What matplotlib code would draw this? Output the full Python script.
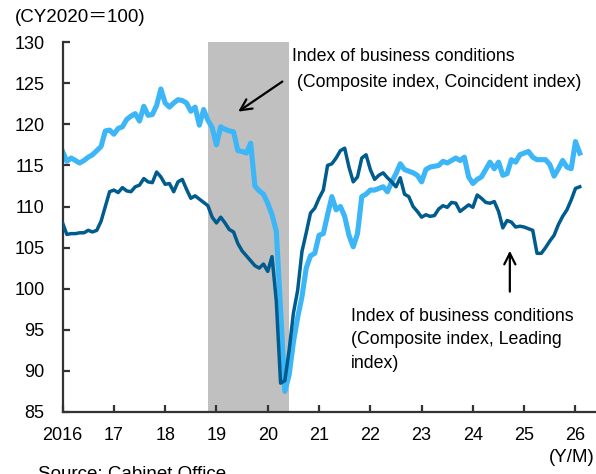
import numpy as np
import matplotlib.pyplot as plt

# monthly values, Jan 2016 .. Feb 2026 (CY2020 = 100)
coincident = [
    116.7, 115.5, 115.9, 115.6, 115.3, 115.6, 116.0, 116.3, 116.8, 117.3, 119.2, 119.3,  # 2016
    118.8, 119.5, 119.7, 120.6, 121.0, 121.3, 120.4, 122.2, 121.1, 121.2, 122.3, 124.3,  # 2017
    122.6, 122.1, 122.6, 123.0, 122.9, 122.6, 121.6, 122.1, 119.9, 121.8, 120.5, 119.6,  # 2018
    117.5, 119.7, 119.4, 119.2, 119.1, 116.8, 116.7, 116.5, 117.7, 112.5, 111.9, 111.5,  # 2019
    110.4, 109.0, 107.0, 97.5, 87.5, 89.5, 93.5, 96.5, 99.0, 102.5, 104.0, 104.3,        # 2020
    106.5, 106.7, 109.0, 111.2, 109.6, 110.0, 108.8, 106.5, 105.1, 106.7, 111.2, 111.5,  # 2021
    112.0, 112.0, 112.2, 112.4, 111.8, 113.0, 114.0, 115.2, 114.5, 114.3, 114.1, 113.8,  # 2022
    113.0, 114.5, 114.8, 114.9, 115.0, 115.5, 115.3, 115.6, 115.9, 115.6, 116.0, 113.6,  # 2023
    112.8, 113.3, 113.6, 114.5, 115.4, 114.6, 115.4, 113.8, 114.0, 115.7, 115.4, 116.3,  # 2024
    116.5, 116.7, 116.0, 115.7, 115.7, 115.7, 115.1, 113.7, 114.6, 115.6, 114.8, 114.6,  # 2025
    117.9, 116.5]
leading = [
    108.0, 106.6, 106.7, 106.7, 106.8, 106.8, 107.1, 106.9, 107.1, 108.2, 110.0, 111.8,  # 2016
    112.0, 111.7, 112.3, 111.9, 111.8, 112.4, 112.6, 113.4, 113.0, 112.9, 114.2, 113.6,  # 2017
    112.7, 112.8, 111.8, 113.0, 113.3, 112.1, 111.0, 111.3, 110.9, 110.5, 110.1, 108.7,  # 2018
    108.0, 108.7, 108.0, 107.2, 106.9, 105.5, 104.6, 104.0, 103.4, 102.8, 102.5, 103.0,  # 2019
    102.1, 103.9, 98.5, 88.5, 88.8, 92.5, 97.0, 99.8, 104.5, 106.8, 109.2, 109.8,        # 2020
    111.0, 112.0, 115.0, 115.2, 115.9, 116.8, 117.1, 114.8, 113.0, 113.6, 115.9, 116.3,  # 2021
    114.5, 113.3, 113.8, 114.1, 113.5, 113.0, 112.4, 113.5, 111.5, 111.2, 110.0, 109.4,  # 2022
    108.7, 109.0, 108.8, 108.9, 109.7, 110.1, 109.9, 110.5, 110.4, 109.4, 109.8, 110.2,  # 2023
    109.9, 111.4, 111.0, 110.5, 110.4, 110.6, 109.4, 107.4, 108.3, 108.1, 107.5, 107.6,  # 2024
    107.5, 107.3, 107.1, 104.3, 104.3, 105.0, 105.8, 106.5, 107.8, 108.8, 109.6, 110.8,  # 2025
    112.2, 112.4]
years = list(range(2016, 2027))
year_labels = ['2016', '17', '18', '19', '20', '21', '22', '23', '24', '25', '26']
recession = (2018.83, 2020.41)

t = 2016 + np.arange(len(coincident)) / 12.0

plt.rcParams['font.family'] = ['Liberation Sans', 'Noto Sans CJK JP']

fig = plt.figure(figsize=(5.96, 4.74), dpi=100)
ax = fig.add_axes([0.105, 0.131, 0.895, 0.780])

ax.axvspan(recession[0], recession[1], color='#c0c0c0', lw=0, zorder=0)
ax.plot(t, coincident, color='#3db6f7', lw=3.7, solid_joinstyle='round', zorder=2)
ax.plot(t, leading, color='#005c8f', lw=2.5, solid_joinstyle='round', zorder=3)

ax.set_xlim(2016, 2026.4)
ax.set_ylim(85, 130)
ax.set_yticks(range(85, 131, 5))
ax.set_xticks(years)
ax.set_xticklabels(year_labels)

for s in ['top', 'right']:
    ax.spines[s].set_visible(False)
for s in ['left', 'bottom']:
    ax.spines[s].set_color('#333333')
    ax.spines[s].set_linewidth(1.6)
ax.tick_params(axis='y', direction='in', length=5, width=1.6, color='#333333',
               labelsize=13, pad=13)
ax.tick_params(axis='x', direction='in', length=5, width=1.6, color='#333333',
               labelsize=13, pad=11)

ax.text(2020.48, 129.35, 'Index of business conditions\n (Composite index, Coincident index)',
        fontsize=12.8, va='top', ha='left', linespacing=1.7)
ax.annotate('', xy=(2019.38, 121.36), xytext=(2020.33, 125.4),
            arrowprops=dict(arrowstyle='->', lw=1.6, color='black', mutation_scale=20))

ax.text(2021.63, 97.7, 'Index of business conditions\n(Composite index, Leading\nindex)',
        fontsize=12.8, va='top', ha='left', linespacing=1.5)
ax.annotate('', xy=(2024.72, 104.95), xytext=(2024.72, 99.3),
            arrowprops=dict(arrowstyle='->', lw=1.6, color='black', mutation_scale=20))

fig.text(15/596, 1 - 18/474, '(CY2020\uff1d100)', fontsize=13.5, va='center', ha='left')
fig.text(595/596, 1 - 458/474, '(Y/M)', fontsize=13.5, va='center', ha='right')
fig.text(38/596, 1 - 466/474, 'Source: Cabinet Office', fontsize=13.5, va='top', ha='left')

fig.savefig('out.png', dpi=100)
